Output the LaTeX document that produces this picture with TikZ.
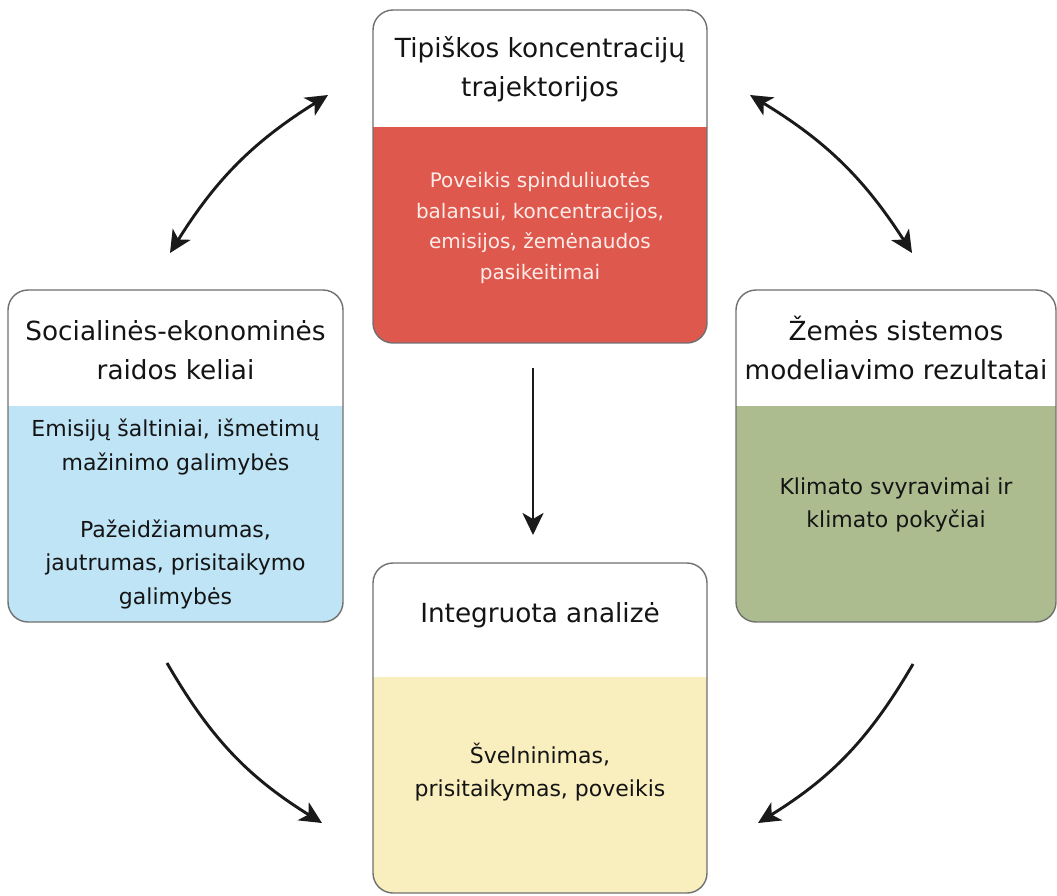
\documentclass[tikz,border=0pt]{standalone}
\usepackage{fontspec}
\setmainfont{DejaVu Sans}
\usetikzlibrary{arrows.meta}
\definecolor{redbody}{RGB}{222,88,78}
\definecolor{bluebody}{RGB}{190,228,245}
\definecolor{greenbody}{RGB}{172,188,143}
\definecolor{yellowbody}{RGB}{249,239,190}
\definecolor{framegray}{RGB}{112,112,112}
\definecolor{textdark}{RGB}{20,20,20}
\definecolor{toptext}{RGB}{253,236,232}
\definecolor{arrowcol}{RGB}{26,26,26}
\begin{document}
\begin{tikzpicture}[x=1pt,y=-1pt,
  mytip/.tip={Stealth[length=22pt,width=21pt,inset=6pt]},
  boxframe/.style={rectangle, draw=framegray, line width=1.4pt, rounded corners=20pt, fill=white, inner sep=0pt,
    path picture={\fill[#1, sharp corners] (path picture bounding box.south west) rectangle ([yshift=216pt]path picture bounding box.south east);}},
  titletext/.style={align=center, font=\fontsize{26.3}{39}\selectfont, text=textdark, inner sep=0pt},
  bodytext/.style={align=center, font=\fontsize{22}{33.5}\selectfont, text=textdark, inner sep=0pt},
  topbody/.style={align=center, font=\fontsize{20}{30.5}\selectfont, text=toptext, inner sep=0pt},
  arrowline/.style={draw=arrowcol, line width=2.9pt}]
\fill[white] (0,0) rectangle (1057,895);
\useasboundingbox (0,0) rectangle (1057,895);
% boxes
\node[boxframe=redbody, minimum width=334pt, minimum height=333pt] (T) at (540,176.5) {};
\node[boxframe=bluebody, minimum width=335pt, minimum height=332pt] (L) at (175.5,456) {};
\node[boxframe=greenbody, minimum width=320pt, minimum height=332pt] (R) at (896,456) {};
\node[boxframe=yellowbody, minimum width=334pt, minimum height=330pt] (B) at (540,728) {};
% texts
\node[titletext] (Tt) at (540,69) {Tipiškos koncentracijų\\trajektorijos};
\node[topbody] (Tb) at (540,228) {Poveikis spinduliuotės\\balansui, koncentracijos,\\emisijos, žemėnaudos\\pasikeitimai};
\node[titletext] (Lt) at (175.5,350) {Socialinės-ekonominės\\raidos keliai};
\node[bodytext] (Lb) at (175.5,514) {Emisijų šaltiniai, išmetimų\\mažinimo galimybės\\[33.5pt]Pažeidžiamumas,\\jautrumas, prisitaikymo\\galimybės};
\node[titletext] (Rt) at (896,348) {Žemės sistemos\\modeliavimo rezultatai};
\node[bodytext] (Rb) at (896,505) {Klimato svyravimai ir\\klimato pokyčiai};
\node[titletext] (Bt) at (540,615) {Integruota analizė};
\node[bodytext] (Bb) at (540,772) {Švelninimas,\\prisitaikymas, poveikis};
% arrow ends
\coordinate (a1s) at (170,253);
\coordinate (a1e) at (328,95);
\coordinate (a2s) at (750,95);
\coordinate (a2e) at (912,253);
\coordinate (a3s) at (533,368);
\coordinate (a3e) at (533,535);
\coordinate (a4s) at (167,663);
\coordinate (a4e) at (322,823);
\coordinate (a5s) at (913,664);
\coordinate (a5e) at (758,823);
% arrows
\draw[arrowline, {mytip}-{mytip}] (a1s) to[bend left=13] (a1e);
\draw[arrowline, {mytip}-{mytip}] (a2s) to[bend left=13] (a2e);
\draw[arrowline, -{mytip}] (a3s) -- (a3e);
\draw[arrowline, -{mytip}] (a4s) to[bend right=14] (a4e);
\draw[arrowline, -{mytip}] (a5s) to[bend left=14] (a5e);
\end{tikzpicture}
\end{document}
